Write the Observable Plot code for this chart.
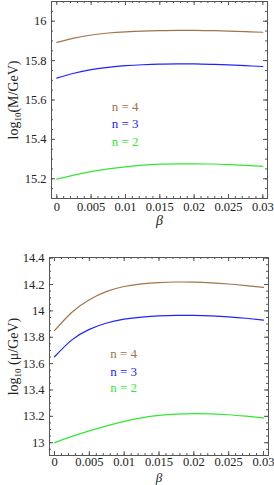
<!DOCTYPE html>
<html><head><meta charset="utf-8">
<script src="https://cdn.jsdelivr.net/npm/d3@7"></script>
<script src="https://cdn.jsdelivr.net/npm/@observablehq/plot@0.6"></script>
<style>
body{margin:0;background:#fff}
#chart{width:274px}
#chart svg{display:block;background:#fff}
</style>
</head><body><div id="chart"></div>
<script>
// ---- data ----
const beta = [0, 0.0025, 0.005, 0.0075, 0.01, 0.0125, 0.015, 0.0175, 0.02, 0.0225, 0.025, 0.0275, 0.03];
const seriesNames = ["n = 4", "n = 3", "n = 2"];
const seriesColors = ["#a27448", "#2222ff", "#33e833"];

// top panel: log10(M/GeV)
const massN4 = [15.892, 15.914, 15.930, 15.940, 15.946, 15.950, 15.952, 15.953, 15.953, 15.952, 15.950, 15.947, 15.944];
const massN3 = [15.711, 15.736, 15.754, 15.766, 15.774, 15.779, 15.782, 15.783, 15.783, 15.781, 15.778, 15.774, 15.770];
const massN2 = [15.198, 15.219, 15.236, 15.250, 15.261, 15.269, 15.274, 15.276, 15.276, 15.275, 15.272, 15.268, 15.263];

// bottom panel: log10(mu/GeV)
const muN4 = [13.850, 13.990, 14.085, 14.148, 14.185, 14.205, 14.215, 14.219, 14.218, 14.213, 14.204, 14.192, 14.178];
const muN3 = [13.652, 13.780, 13.860, 13.908, 13.937, 13.953, 13.962, 13.966, 13.966, 13.962, 13.955, 13.944, 13.930];
const muN2 = [13.000, 13.048, 13.090, 13.128, 13.162, 13.189, 13.207, 13.217, 13.221, 13.219, 13.212, 13.201, 13.188];

// legend label positions (data coordinates)
const legendBeta = 0.008;
const massLegendY = [15.566, 15.478, 15.390];
const muLegendY = [13.671, 13.539, 13.413];

// ticks
const xTicks = [0, 0.005, 0.01, 0.015, 0.02, 0.025, 0.03];
const massTicks = [15.2, 15.4, 15.6, 15.8, 16];
const muTicks = [13, 13.2, 13.4, 13.6, 13.8, 14, 14.2, 14.4];

const font = "'Liberation Serif', 'Times New Roman', serif";
const frameColor = "#555";

function panel(o) {
  const fh = o.height - o.marginTop - o.marginBottom;
  const fw = 274 - o.marginLeft - o.marginRight;
  const xMinor = d3.range(0, 31).map(i => i / 1000);
  const yMinor = d3.range(Math.ceil(o.yDomain[0] * 20), Math.floor(o.yDomain[1] * 20) + 1).map(i => i / 20);
  const rows = o.series.map(vals => beta.map((b, i) => ({beta: b, v: vals[i]})));
  const marks = [
    Plot.frame({stroke: frameColor, strokeWidth: 1}),
    // inward ticks
    Plot.ruleX(xMinor, {x: d => d, insetTop: fh - 2, stroke: frameColor}),
    Plot.ruleX(xMinor, {x: d => d, insetBottom: fh - 2, stroke: frameColor}),
    Plot.ruleX(xTicks, {x: d => d, insetTop: fh - 4, stroke: frameColor}),
    Plot.ruleX(xTicks, {x: d => d, insetBottom: fh - 4, stroke: frameColor}),
    Plot.ruleY(yMinor, {y: d => d, insetRight: fw - 2, stroke: frameColor}),
    Plot.ruleY(yMinor, {y: d => d, insetLeft: fw - 2, stroke: frameColor}),
    Plot.ruleY(o.yTicks, {y: d => d, insetRight: fw - 4, stroke: frameColor}),
    Plot.ruleY(o.yTicks, {y: d => d, insetLeft: fw - 4, stroke: frameColor}),
    Plot.axisX(xTicks, {tickSize: 0, tickPadding: o.xPad, label: null, tickFormat: d => String(d), fontSize: o.tickFont}),
    Plot.axisY(o.yTicks, {tickSize: 0, tickPadding: o.yPad, label: null, tickFormat: d => String(d), fontSize: o.tickFont}),
    ...rows.map((r, i) => Plot.line(r, {x: "beta", y: "v", stroke: seriesColors[i], strokeWidth: 1.2, curve: "natural"})),
    ...seriesNames.map((n, i) => Plot.text([n], {x: () => legendBeta, y: () => o.legendY[i], text: d => d, fill: seriesColors[i], textAnchor: "start", fontSize: 13})),
    Plot.text(["β"], {frameAnchor: "bottom", lineAnchor: "middle", textAnchor: "middle", dy: o.betaDy, text: d => d, fontStyle: "italic", fontSize: o.betaFont}),
    Plot.text([o.ylabel], {frameAnchor: "left", lineAnchor: "middle", textAnchor: "middle", dx: o.ylabelDx, rotate: -90, text: d => d, fontSize: 14, className: "ylab"})
  ];
  const svg = Plot.plot({
    width: 274, height: o.height,
    marginTop: o.marginTop, marginBottom: o.marginBottom, marginLeft: o.marginLeft, marginRight: o.marginRight,
    x: {domain: o.xDomain, label: null},
    y: {domain: o.yDomain, label: null},
    style: {fontFamily: font, fontSize: "12px", color: "#222", background: "#fff"},
    marks
  });
  // subscript for log10
  svg.querySelectorAll(".ylab text").forEach(t => {
    const s = t.textContent;
    t.textContent = "";
    const ns = "http://www.w3.org/2000/svg";
    const a = document.createElementNS(ns, "tspan"); a.textContent = "log";
    const b = document.createElementNS(ns, "tspan"); b.textContent = "10"; b.setAttribute("font-size", "9"); b.setAttribute("dy", "3");
    const c = document.createElementNS(ns, "tspan"); c.textContent = s.replace("log10", ""); c.setAttribute("dy", "-3");
    t.append(a, b, c);
  });
  return svg;
}

const chart = document.getElementById("chart");
chart.append(panel({
  height: 240, marginTop: 1, marginBottom: 42, marginLeft: 51, marginRight: 7,
  xDomain: [-0.00077, 0.03068], yDomain: [15.1, 16.1],
  yTicks: massTicks, series: [massN4, massN3, massN2], legendY: massLegendY,
  tickFont: 12.5, xPad: 4, yPad: 5, betaDy: 22, betaFont: 14, ylabel: "log10(M/GeV)", ylabelDx: -38
}));
chart.append(panel({
  height: 245, marginTop: 17, marginBottom: 30, marginLeft: 49, marginRight: 6,
  xDomain: [-0.00072, 0.03072], yDomain: [12.903, 14.405],
  yTicks: muTicks, series: [muN4, muN3, muN2], legendY: muLegendY,
  tickFont: 12.5, xPad: 2, yPad: 5, betaDy: 22, betaFont: 13, ylabel: "log10 (μ/GeV)", ylabelDx: -36
}));
</script>
</body></html>
